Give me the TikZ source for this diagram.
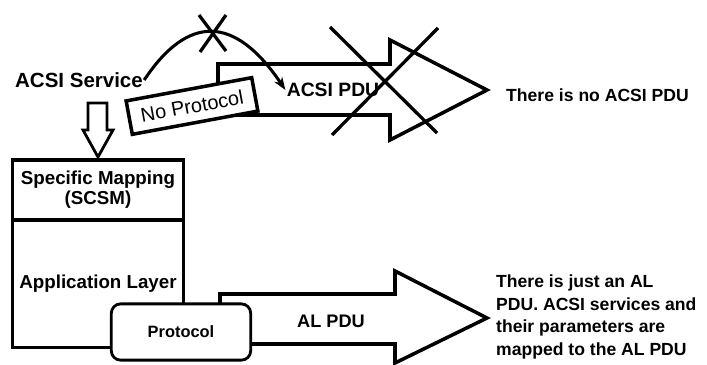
\documentclass[tikz,border=0pt]{standalone}
\usepackage{fontspec}
\setmainfont{Liberation Sans}
\usetikzlibrary{arrows.meta, positioning}

\begin{document}
\begin{tikzpicture}[x=0.03cm, y=-0.03cm,
    txt/.style={font=\fontsize{16}{19}\selectfont\bfseries, inner sep=1pt},
    note/.style={font=\fontsize{15}{19.5}\selectfont\bfseries, align=left, inner sep=0pt},
    layer/.style={draw, line width=2.8pt, outer sep=0pt, minimum width=146pt, align=center,
        font=\fontsize{16}{17}\selectfont\bfseries},
    bigarrow/.style={draw, line width=3pt, fill=white},
    cross/.style={line width=2.8pt}
]
    \useasboundingbox (0,0) rectangle (707,364);

    % protocol stack on the left
    \node[layer, minimum height=51pt] (scsm) at (98,190) {Specific Mapping\\(SCSM)};
    \node[layer, minimum height=109pt, below=0pt of scsm] (applayer) {Application Layer};

    \node[txt, font=\fontsize{17.5}{20}\selectfont\bfseries] (service) at (79,80) {ACSI Service};

    % hollow arrow down to the mapping
    \draw[line width=2.4pt, fill=white] (88,103) -- (107,103) -- (107,130) -- (113,130)
        -- (98,157) -- (83,130) -- (88,130) -- cycle;

    % upper arrow (no ACSI PDU)
    \draw[bigarrow] (218,64) -- (390,64) -- (390,40) -- (487,90) -- (390,140)
        -- (390,115) -- (218,115) -- cycle;
    \node[txt, font=\fontsize{16.5}{19}\selectfont\bfseries] (pdutop) at (333,90) {ACSI PDU};

    \node[draw, line width=3pt, fill=white, rotate=10.5, minimum width=109pt,
        minimum height=29pt, font=\fontsize{17}{19}\selectfont] (noproto) at (192,106) {No Protocol};

    \draw[line width=2.6pt, -{Stealth[length=11pt, width=8pt]}] (service.east)
        .. controls (188,14) and (235,15) .. (pdutop.west);
    \draw[cross] (199,15) -- (226,51);
    \draw[cross] (226,15) -- (200,52);

    \draw[cross] (330,27) -- (437,133);
    \draw[cross] (438,28) -- (332,135);

    % lower arrow (AL PDU)
    \draw[bigarrow] (220,294) -- (395,294) -- (395,271) -- (487,318) -- (395,363)
        -- (395,344) -- (220,344) -- cycle;
    \node[txt, font=\fontsize{15.5}{19}\selectfont\bfseries] (alpdu) at (331,321) {AL PDU};

    \node[draw, line width=2.4pt, fill=white, rounded corners=8pt, minimum width=119pt,
        minimum height=48pt, font=\fontsize{14}{17}\selectfont\bfseries] (proto) at (181,332) {Protocol};

    % remarks
    \node[note, anchor=west] (nopdu) at (506,95) {There is no ACSI PDU};
    \node[note, anchor=west] (justal) at (496,317) {There is just an AL\\PDU. ACSI services and\\their parameters are\\mapped to the AL PDU};
\end{tikzpicture}
\end{document}
